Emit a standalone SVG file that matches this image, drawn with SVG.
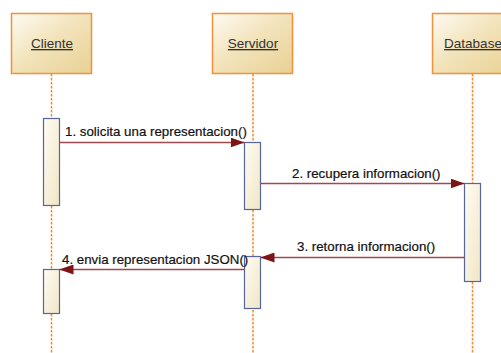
<svg xmlns="http://www.w3.org/2000/svg" width="501" height="353" viewBox="0 0 501 353">
<defs>
<linearGradient id="gActor" x1="0" y1="0" x2="1" y2="1">
<stop offset="0" stop-color="#fefbf3"/>
<stop offset="0.45" stop-color="#f3e4bd"/>
<stop offset="1" stop-color="#e8d193"/>
</linearGradient>
<linearGradient id="gAct" x1="0" y1="0" x2="1" y2="1">
<stop offset="0" stop-color="#fefcf4"/>
<stop offset="1" stop-color="#f1e6c4"/>
</linearGradient>
<marker id="arr" markerWidth="14" markerHeight="10" refX="14" refY="5" orient="auto" markerUnits="userSpaceOnUse">
<path d="M0,0 L14,5 L0,10 Z" fill="#7d1416"/>
</marker>
</defs>
<style>
.actor{fill:url(#gActor);stroke:#f1913d;stroke-width:1.5}
.life{stroke:#f08a36;stroke-width:1.5;stroke-dasharray:2.5,1.5;fill:none}
.act{fill:url(#gAct);stroke:#5665a0;stroke-width:1.2}
.msg{stroke:#a3484d;stroke-width:1.3;fill:none;marker-end:url(#arr)}
.lbl{font-family:"Liberation Sans",Arial,sans-serif;font-size:13.3px;fill:#111;stroke:#111;stroke-width:0.2}
.name{font-family:"Liberation Sans",Arial,sans-serif;font-size:13.5px;fill:#333;text-anchor:middle;text-decoration:underline}
</style>
<rect width="501" height="353" fill="#fff"/>
<g id="lifelines">
<line class="life" x1="51.5" y1="74" x2="51.5" y2="353"/>
<line class="life" x1="253" y1="74" x2="253" y2="353"/>
<line class="life" x1="472.5" y1="74" x2="472.5" y2="353"/>
</g>
<g id="cliente">
<rect class="actor" x="11.5" y="13.5" width="80" height="60"/>
<text class="name" x="52" y="48">Cliente</text>
</g>
<g id="servidor">
<rect class="actor" x="212.5" y="13.5" width="80" height="60"/>
<text class="name" x="253" y="48">Servidor</text>
</g>
<g id="database">
<rect class="actor" x="432.5" y="13.5" width="80" height="60"/>
<text class="name" x="473" y="48">Database</text>
</g>
<g id="activations">
<rect class="act" x="43.5" y="118.5" width="16" height="87"/>
<rect class="act" x="244.5" y="142.5" width="16" height="67"/>
<rect class="act" x="464.5" y="183.5" width="16" height="98"/>
<rect class="act" x="244.5" y="256.5" width="16" height="52"/>
<rect class="act" x="43.5" y="269.5" width="16" height="44"/>
</g>
<g id="connectors">
<line class="msg" x1="59.5" y1="142.5" x2="244.5" y2="142.5"/>
<line class="msg" x1="260.5" y1="183.5" x2="464.5" y2="183.5"/>
<line class="msg" x1="464.5" y1="257.5" x2="260.5" y2="257.5"/>
<line class="msg" x1="244.5" y1="269.5" x2="59.5" y2="269.5"/>
</g>
<g id="labels">
<text class="lbl" x="65" y="136">1. solicita una representacion()</text>
<text class="lbl" x="292" y="178">2. recupera informacion()</text>
<text class="lbl" x="297" y="251">3. retorna informacion()</text>
<text class="lbl" x="62" y="264">4. envia representacion JSON()</text>
</g>
</svg>
